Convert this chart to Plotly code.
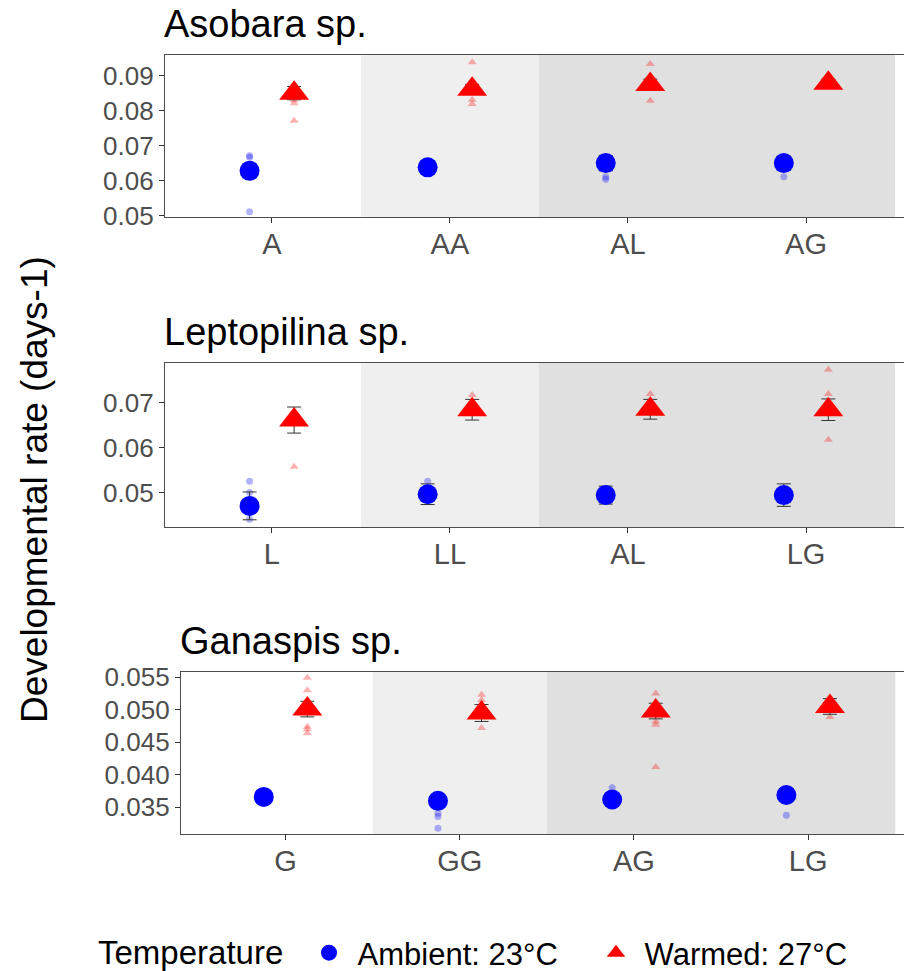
import plotly.graph_objects as go

FONT = "Liberation Sans, Arial, sans-serif"

# ---------------- data ----------------
species = ["Asobara sp.", "Leptopilina sp.", "Ganaspis sp."]

cats_aso = ["A", "AA", "AL", "AG"]
cats_lep = ["L", "LL", "AL", "LG"]
cats_gan = ["G", "GG", "AG", "LG"]

# Asobara
aso_amb_mean = [0.0628, 0.0638, 0.0650, 0.0650]
aso_amb_se = [0.0020, 0.0010, 0.0022, 0.0020]
aso_warm_mean = [0.0850, 0.0861, 0.0875, 0.0878]
aso_warm_se = [0.0019, 0.0014, 0.0015, 0.0012]
aso_amb_pts = [[0.0671, 0.0667, 0.0511, 0.0630], [0.0640, 0.0636], [0.0611, 0.0604, 0.0652], [0.0611, 0.0648]]
aso_warm_pts = [[0.0821, 0.0830, 0.0771, 0.0860], [0.0938, 0.0831, 0.0819, 0.0870], [0.0933, 0.0828, 0.0880], [0.0870, 0.0880]]

# Leptopilina
lep_amb_mean = [0.0470, 0.0496, 0.0494, 0.0494]
lep_amb_se = [0.0031, 0.0023, 0.0020, 0.0025]
lep_warm_mean = [0.0661, 0.0684, 0.0685, 0.0684]
lep_warm_se = [0.0029, 0.0023, 0.0022, 0.0024]
lep_amb_pts = [[0.0525, 0.0500, 0.0440], [0.0525, 0.0510], [0.0500], [0.0490]]
lep_warm_pts = [[0.0557, 0.0680], [0.0717, 0.0700], [0.0719, 0.0690], [0.0773, 0.0719, 0.0617]]

# Ganaspis
gan_amb_mean = [0.0366, 0.0360, 0.0362, 0.0369]
gan_amb_se = [0.0006, 0.0007, 0.0006, 0.0007]
gan_warm_mean = [0.0501, 0.0495, 0.0498, 0.0505]
gan_warm_se = [0.0012, 0.0013, 0.0012, 0.0012]
gan_amb_pts = [[0.0368], [0.0341, 0.0336, 0.0318], [0.0380], [0.0338]]
gan_warm_pts = [[0.0549, 0.0530, 0.0474, 0.0464, 0.0470], [0.0523, 0.0515, 0.0472], [0.0525, 0.0477, 0.0412, 0.0482], [0.0489]]

y_ranges = [[0.0496, 0.0959], [0.0423, 0.0788], [0.0309, 0.0558]]
y_ticks = [[0.05, 0.06, 0.07, 0.08, 0.09], [0.05, 0.06, 0.07], [0.035, 0.040, 0.045, 0.050, 0.055]]
y_fmt = [".2f", ".2f", ".3f"]

legend_title = "Temperature"
legend_labels = ["Ambient: 23°C", "Warmed: 27°C"]

# ---------------- layout geometry (pixels) ----------------
W, H = 904, 971
panels_px = [  # (left, top, bottom)
    (165, 55, 217),
    (165, 363, 527),
    (181, 672, 834),
]
DODGE = 0.125
BLUE = "#0000FF"
RED = "#FF0000"
NB = "\u00a0"

panels = [
    (cats_aso, aso_amb_mean, aso_amb_se, aso_warm_mean, aso_warm_se, aso_amb_pts, aso_warm_pts),
    (cats_lep, lep_amb_mean, lep_amb_se, lep_warm_mean, lep_warm_se, lep_amb_pts, lep_warm_pts),
    (cats_gan, gan_amb_mean, gan_amb_se, gan_warm_mean, gan_warm_se, gan_amb_pts, gan_warm_pts),
]

fig = go.Figure()
layout = {}
shapes = []
annotations = []

for i, (cats, am, ase, wm, wse, apts, wpts) in enumerate(panels):
    n = i + 1
    xa = "x" if n == 1 else f"x{n}"
    ya = "y" if n == 1 else f"y{n}"
    pos = list(range(1, len(cats) + 1))

    # individual points (transparent)
    for pts_list, off, col, sym in [(apts, -DODGE, BLUE, "circle"), (wpts, DODGE, RED, "triangle-up")]:
        xs, ys = [], []
        for p, vals in zip(pos, pts_list):
            xs += [p + off] * len(vals)
            ys += vals
        fig.add_trace(go.Scatter(
            x=xs, y=ys, mode="markers", xaxis=xa, yaxis=ya, showlegend=False,
            marker=dict(color=col, size=7 if sym == "circle" else 8, symbol=sym, opacity=0.3, line=dict(width=0)),
            hoverinfo="skip"))

    # means with error bars
    for mean, se, off, col, sym, sz, lab in [
        (am, ase, -DODGE, BLUE, "circle", 20, legend_labels[0]),
        (wm, wse, DODGE, RED, "triangle-up", 26, legend_labels[1]),
    ]:
        fig.add_trace(go.Scatter(
            x=[p + off for p in pos], y=mean, mode="markers", xaxis=xa, yaxis=ya,
            name=NB + lab, legendgroup=lab, showlegend=(n == 1),
            marker=dict(color=col, size=sz, symbol=sym, line=dict(width=0)),
            error_y=dict(type="data", array=se, visible=True, color="#333333", thickness=1, width=7)))

    left, top, bottom = panels_px[i]
    xdom = [left / W, 1.0]
    ydom = [1 - bottom / H, 1 - top / H]
    axkey = "xaxis" if n == 1 else f"xaxis{n}"
    aykey = "yaxis" if n == 1 else f"yaxis{n}"
    layout[axkey] = dict(
        domain=xdom, anchor=ya, range=[0.4, 4.55], tickmode="array", tickvals=pos, ticktext=cats,
        showline=True, linecolor="#4D4D4D", linewidth=1.2, mirror=True, ticks="outside", ticklen=5,
        tickcolor="#333333", tickwidth=1.1, showgrid=False, zeroline=False, ticklabelstandoff=-4,
        tickfont=dict(family=FONT, size=29, color="#4D4D4D"))
    layout[aykey] = dict(
        domain=ydom, anchor=xa, range=y_ranges[i], tickmode="array", tickvals=y_ticks[i],
        ticktext=[format(v, y_fmt[i]) for v in y_ticks[i]],
        showline=True, linecolor="#4D4D4D", linewidth=1.2, ticks="outside", ticklen=5,
        tickcolor="#333333", tickwidth=1.1, showgrid=False, zeroline=False,
        tickfont=dict(family=FONT, size=26, color="#4D4D4D"))

    # background bands
    shapes.append(dict(type="rect", xref=xa, yref=f"{ya} domain", x0=1.5, x1=2.5, y0=0, y1=1,
                       fillcolor="#EFEFEF", line=dict(width=0), layer="below"))
    shapes.append(dict(type="rect", xref=xa, yref=f"{ya} domain", x0=2.5, x1=4.5, y0=0, y1=1,
                       fillcolor="#E0E0E0", line=dict(width=0), layer="below"))

    # panel title
    annotations.append(dict(text=species[i], xref="paper", yref="paper", x=(left - 3) / W,
                            y=1 - (top - 31) / H, xanchor="left", yanchor="middle", showarrow=False,
                            font=dict(family=FONT, size=38, color="black")))

annotations.append(dict(text="Developmental rate (days-1)", xref="paper", yref="paper", x=35 / W,
                        y=1 - 490 / H, xanchor="center", yanchor="middle", textangle=-90, showarrow=False,
                        font=dict(family=FONT, size=37, color="black")))

# legend title
annotations.append(dict(text=legend_title, xref="paper", yref="paper", x=96 / W,
                        y=1 - 952 / H, xanchor="left", yanchor="middle", showarrow=False,
                        font=dict(family=FONT, size=33, color="black")))

fig.update_layout(
    width=W, height=H, margin=dict(l=0, r=0, t=0, b=0, autoexpand=False),
    paper_bgcolor="white", plot_bgcolor="white",
    shapes=shapes, annotations=annotations,
    showlegend=True,
    legend=dict(orientation="h", xref="container", yref="container",
                x=309 / W, xanchor="left", y=1 - 953 / H, yanchor="middle",
                font=dict(family=FONT, size=31, color="black"), bgcolor="rgba(0,0,0,0)",
                itemsizing="trace", traceorder="normal", entrywidth=242),
    **layout,
)

fig.write_html("out.html", config={"displayModeBar": False},
               post_script="document.body.style.margin='0';document.body.style.overflow='hidden';")
